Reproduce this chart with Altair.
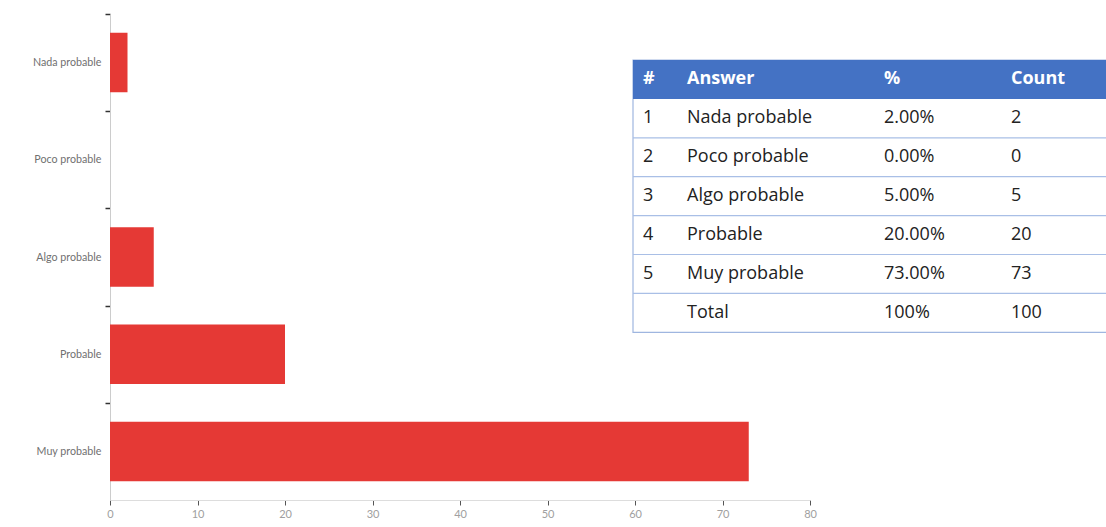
import altair as alt
import pandas as pd

# Survey answers and counts
categories = ["Nada probable", "Poco probable", "Algo probable", "Probable", "Muy probable"]
counts = [2, 0, 5, 20, 73]
header = ["#", "Answer", "%", "Count"]
total_label = "Total"

total = sum(counts)

# ---- bar chart ----
bars_df = pd.DataFrame({"answer": categories, "count": counts})

PLOT_W, PLOT_H = 700, 486
STEP = PLOT_H / len(categories)

bars = alt.Chart(bars_df).mark_bar(color="#E53935").encode(
    x=alt.X(
        "count:Q",
        scale=alt.Scale(domain=[0, 80], nice=False),
        axis=alt.Axis(
            values=list(range(0, 81, 10)),
            title=None,
            grid=False,
            labelFlush=False,
            labelFont="Lato",
            labelFontSize=11,
            labelColor="#a0a0a0",
            tickColor="#555555",
            tickSize=5,
            domainColor="#dddddd",
            labelPadding=3,
        ),
    ),
    y=alt.Y(
        "answer:N",
        sort=categories,
        scale=alt.Scale(paddingInner=0.388, paddingOuter=0.194),
        axis=alt.Axis(
            title=None,
            grid=False,
            # ticks sit on the band boundaries, labels stay centred
            tickOffset=-STEP / 2,
            labelOffset=STEP / 2,
            labelFont="Lato",
            labelFontSize=10.7,
            labelColor="#707070",
            tickColor="#333333",
            tickSize=5,
            tickWidth=1.5,
            domainColor="#cccccc",
            labelPadding=4,
        ),
    ),
)

# ---- summary table (rows 0 = header, 1..5 = answers, 6 = total) ----
TABLE_LEFT, TABLE_W = 523, 480
TABLE_TOP, ROW_H, N_ROWS = 46, 38.9, 7
COL_OFFSETS = [10, 54, 251, 378]

tx = alt.Scale(domain=[0, TABLE_W], range=[TABLE_LEFT, TABLE_LEFT + TABLE_W])
ty = alt.Scale(domain=[0, N_ROWS], range=[TABLE_TOP, TABLE_TOP + ROW_H * N_ROWS])

body_rows = []
for i, (name, c) in enumerate(zip(categories, counts), start=1):
    body_rows.append([str(i), name, f"{c / total * 100:.2f}%", str(c)])
body_rows.append(["", total_label, f"{round(sum(counts) / total * 100)}%", str(total)])

head_cells = pd.DataFrame(
    {"x": COL_OFFSETS, "y": [0.5] * 4, "t": header}
)
body_cells = pd.DataFrame(
    [
        {"x": COL_OFFSETS[j], "y": r + 1.5, "t": txt}
        for r, row in enumerate(body_rows)
        for j, txt in enumerate(row)
        if txt
    ]
)

box_df = pd.DataFrame({"x": [0], "x2": [TABLE_W], "y": [0], "y2": [N_ROWS], "yh": [1]})
sep_df = pd.DataFrame({"y": list(range(2, N_ROWS)), "x": 0, "x2": TABLE_W})

body_box = alt.Chart(box_df).mark_rect(fill="white", stroke="#9FB6E0", strokeWidth=1.2).encode(
    x=alt.X("x:Q", scale=tx, axis=None),
    x2="x2:Q",
    y=alt.Y("y:Q", scale=ty, axis=None),
    y2="y2:Q",
)
head_box = alt.Chart(box_df).mark_rect(fill="#4472C4").encode(
    x=alt.X("x:Q", scale=tx, axis=None),
    x2="x2:Q",
    y=alt.Y("y:Q", scale=ty, axis=None),
    y2="yh:Q",
)
seps = alt.Chart(sep_df).mark_rule(color="#A9BFE6", strokeWidth=1.2).encode(
    x=alt.X("x:Q", scale=tx, axis=None),
    x2="x2:Q",
    y=alt.Y("y:Q", scale=ty, axis=None),
)
head_text = alt.Chart(head_cells).mark_text(
    align="left", baseline="middle", font="Open Sans", fontSize=18, fontWeight="bold", color="white"
).encode(
    x=alt.X("x:Q", scale=tx, axis=None),
    y=alt.Y("y:Q", scale=ty, axis=None),
    text="t:N",
)
body_text = alt.Chart(body_cells).mark_text(
    align="left", baseline="middle", font="Open Sans", fontSize=18, color="#222222"
).encode(
    x=alt.X("x:Q", scale=tx, axis=None),
    y=alt.Y("y:Q", scale=ty, axis=None),
    text="t:N",
)

chart = (
    alt.layer(bars, body_box, head_box, seps, head_text, body_text)
    .resolve_scale(x="independent", y="independent")
    .properties(
        width=PLOT_W,
        height=PLOT_H,
        autosize=alt.AutoSizeParams(type="none"),
        padding={"left": 110, "top": 14, "right": 296, "bottom": 27},
        background="white",
    )
    .configure_view(stroke=None)
)

chart.save("out.html", embed_options={"renderer": "svg", "actions": False})
